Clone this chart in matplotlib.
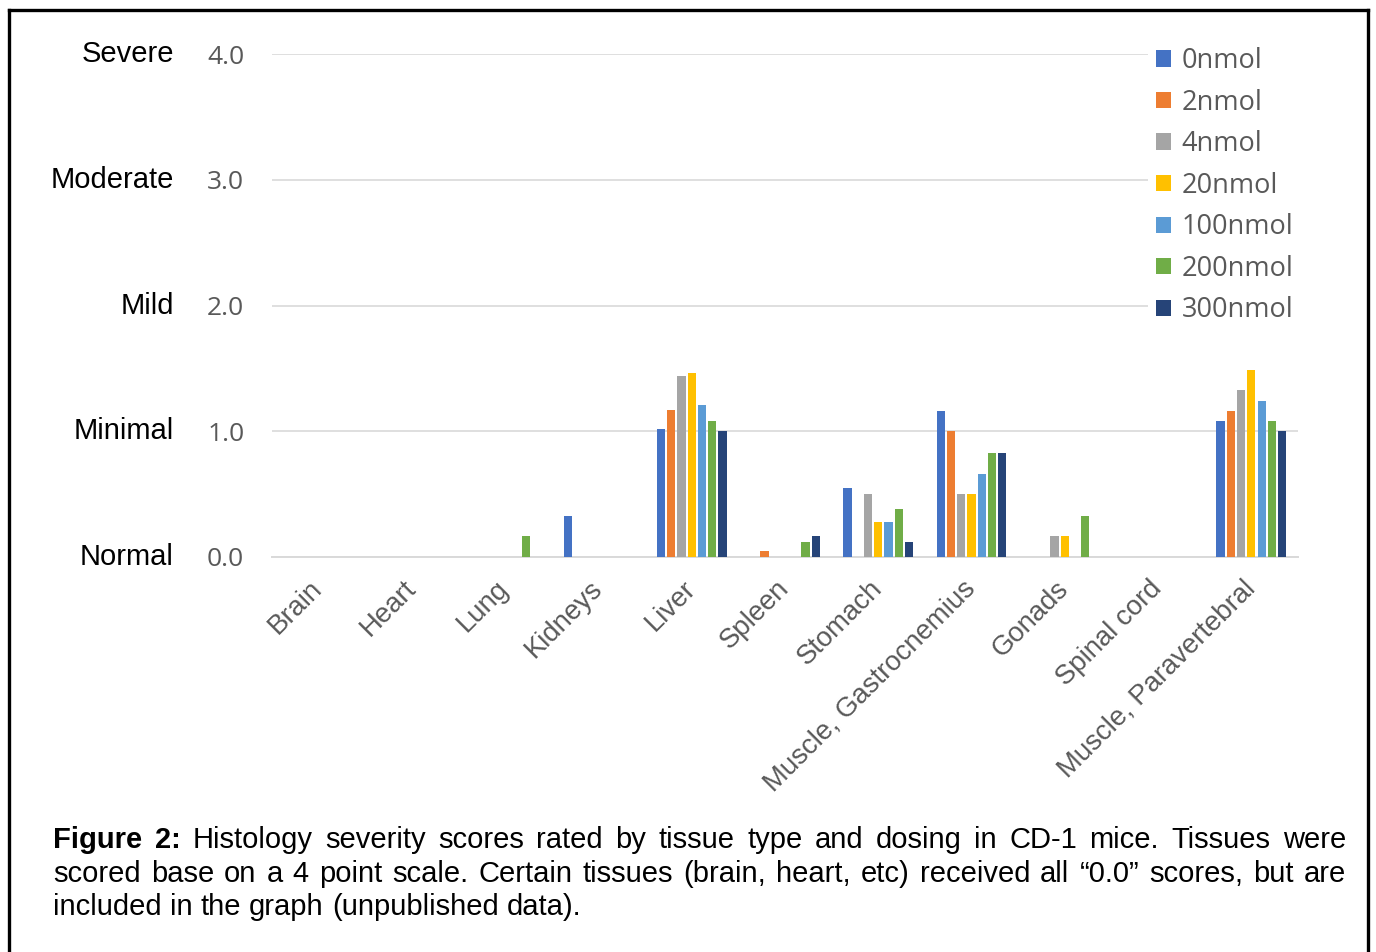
import matplotlib
matplotlib.use('Agg')
import matplotlib.pyplot as plt
import numpy as np
from matplotlib.lines import Line2D
from matplotlib.patches import Patch
from matplotlib.transforms import blended_transform_factory

# Data
categories = ['Brain', 'Heart', 'Lung', 'Kidneys', 'Liver', 'Spleen', 'Stomach',
              'Muscle, Gastrocnemius', 'Gonads', 'Spinal cord', 'Muscle, Paravertebral']
doses = ['0nmol', '2nmol', '4nmol', '20nmol', '100nmol', '200nmol', '300nmol']
dose_0 = [0, 0, 0, 0.33, 1.02, 0, 0.55, 1.16, 0, 0, 1.08]
dose_2 = [0, 0, 0, 0, 1.17, 0.05, 0, 1.00, 0, 0, 1.16]
dose_4 = [0, 0, 0, 0, 1.44, 0, 0.50, 0.50, 0.17, 0, 1.33]
dose_20 = [0, 0, 0, 0, 1.46, 0, 0.28, 0.50, 0.17, 0, 1.49]
dose_100 = [0, 0, 0, 0, 1.21, 0, 0.28, 0.66, 0, 0, 1.24]
dose_200 = [0, 0, 0.17, 0, 1.08, 0.12, 0.38, 0.83, 0.33, 0, 1.08]
dose_300 = [0, 0, 0, 0, 1.00, 0.17, 0.12, 0.83, 0, 0, 1.00]
severity_labels = ['Normal', 'Minimal', 'Mild', 'Moderate', 'Severe']
severity_ticks = [0, 1, 2, 3, 4]

colors = ['#4472C4', '#ED7D31', '#A5A5A5', '#FFC000', '#5B9BD5', '#70AD47', '#264478']
series = [dose_0, dose_2, dose_4, dose_20, dose_100, dose_200, dose_300]

W, H = 1376, 952
fig = plt.figure(figsize=(W / 100, H / 100), dpi=100)
fig.patch.set_facecolor('white')

# axes placed to match the reference plot area
left, right, top, bottom = 272, 1298, 54, 557
ax = fig.add_axes([left / W, 1 - bottom / H, (right - left) / W, (bottom - top) / H])

x = np.arange(len(categories))
slot = 0.11
bar_w = 0.088
for i, (vals, col) in enumerate(zip(series, colors)):
    ax.bar(x + (i - 3) * slot, vals, width=bar_w, color=col, zorder=3)

ax.set_xlim(-0.5, len(categories) - 0.5)
ax.set_ylim(0, 4)
ax.set_yticks(severity_ticks)
ax.set_yticklabels([f'{v:.1f}' for v in severity_ticks], family='Open Sans',
                   fontsize=19, color='#595959')
ax.tick_params(axis='y', length=0, pad=20)
ax.grid(axis='y', color='#D9D9D9', linewidth=1.2, zorder=0)
ax.set_axisbelow(True)
for s in ['top', 'right', 'left']:
    ax.spines[s].set_visible(False)
ax.spines['bottom'].set_color('#D9D9D9')
ax.spines['bottom'].set_linewidth(1.4)

ax.set_xticks(x)
ax.set_xticklabels(categories, rotation=45, ha='right', va='center',
                   rotation_mode='anchor', family='Liberation Sans',
                   fontsize=19.8, color='#595959')
ax.tick_params(axis='x', length=0, pad=20)

# severity names left of the tick labels
sev_tr = blended_transform_factory(fig.transFigure, ax.transData)
for lab, t in zip(severity_labels, severity_ticks):
    ax.text(174 / W, t, lab, transform=sev_tr,
            ha='right', va='center', fontsize=21, family='Liberation Sans', color='black')

handles = [Patch(facecolor=c, edgecolor='none') for c in colors]
leg = ax.legend(handles, doses, loc='upper left', bbox_to_anchor=(1148 / W, 1 - 39 / H),
                bbox_transform=fig.transFigure, frameon=True, fancybox=False,
                facecolor='white', edgecolor='none', framealpha=1,
                prop={'family': 'Open Sans', 'size': 19.5}, labelcolor='#595959',
                handlelength=0.55, handleheight=0.55, handletextpad=0.4,
                labelspacing=0.5, borderpad=0.3, borderaxespad=0)
leg.set_zorder(5)

# border around the figure (bottom edge runs off the image)
bx0, bx1, by = 8.5 / W, 1367.5 / W, 1 - 9.5 / H
for xs, ys in [([bx0, bx0], [-0.01, by]), ([bx0, bx1], [by, by]), ([bx1, bx1], [by, -0.01])]:
    fig.add_artist(Line2D(xs, ys, transform=fig.transFigure, color='black', linewidth=2.4))

# justified caption
fig.canvas.draw()
renderer = fig.canvas.get_renderer()
cap_size = 21
lines = [
    ('Figure 2:', 'Histology severity scores rated by tissue type and dosing in CD-1 mice. Tissues were', True),
    ('', 'scored base on a 4 point scale. Certain tissues (brain, heart, etc) received all \u201c0.0\u201d scores, but are', True),
    ('', 'included in the graph (unpublished data).', False),
]
baselines = [848, 882, 915]
x0, x1 = 53, 1346
for (bold, rest, justify), yb in zip(lines, baselines):
    words = [(w, 'bold') for w in bold.split()] + [(w, 'normal') for w in rest.split()]
    texts = [fig.text(0, 1 - yb / H, w, fontsize=cap_size, fontweight=wt,
                      family='Liberation Sans', va='baseline', ha='left') for w, wt in words]
    widths = [t.get_window_extent(renderer).width for t in texts]
    if justify:
        gap = (x1 - x0 - sum(widths)) / (len(words) - 1)
    else:
        sp = fig.text(0, 0, 'a a', fontsize=cap_size, family='Liberation Sans')
        sp2 = fig.text(0, 0, 'aa', fontsize=cap_size, family='Liberation Sans')
        gap = sp.get_window_extent(renderer).width - sp2.get_window_extent(renderer).width
        sp.remove()
        sp2.remove()
    xp = x0
    for t, w in zip(texts, widths):
        t.set_x(xp / W)
        xp += w + gap

fig.savefig('out.png', dpi=100, facecolor='white')
